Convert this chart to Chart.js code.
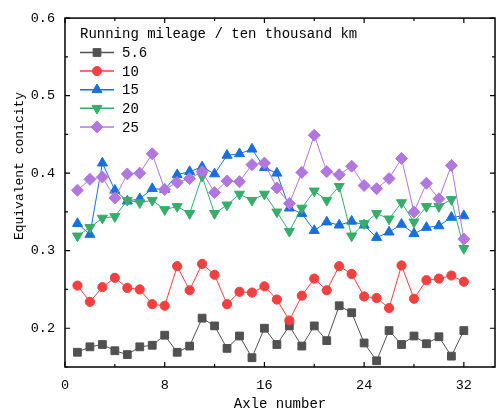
<!DOCTYPE html>
<html>
<head>
<meta charset="utf-8">
<script src="https://cdn.jsdelivr.net/npm/chart.js@4"></script>
<style>
html,body{margin:0;padding:0;background:#fff;}
canvas{display:block;}
</style>
</head>
<body>
<canvas id="myChart" width="502" height="416"></canvas>
<script>
// axle positions and conicity per running mileage (x10^4 km)
const axles = [1,2,3,4,5,6,7,8,9,10,11,12,13,14,15,16,17,18,19,20,21,22,23,24,25,26,27,28,29,30,31,32];
const mileages = ["5.6","10","15","20","25"];
const s56 = [0.169,0.176,0.179,0.171,0.166,0.176,0.178,0.191,0.169,0.177,0.213,0.203,0.174,0.190,0.162,0.200,0.179,0.203,0.177,0.203,0.184,0.229,0.220,0.181,0.158,0.197,0.179,0.190,0.180,0.189,0.164,0.197];
const s10 = [0.255,0.234,0.253,0.265,0.252,0.250,0.231,0.229,0.280,0.249,0.283,0.269,0.231,0.247,0.246,0.254,0.237,0.210,0.242,0.264,0.249,0.280,0.270,0.241,0.239,0.226,0.281,0.238,0.262,0.264,0.268,0.260];
const s15 = [0.335,0.321,0.413,0.378,0.364,0.367,0.380,0.379,0.398,0.402,0.408,0.399,0.423,0.425,0.431,0.407,0.400,0.355,0.348,0.326,0.337,0.333,0.338,0.333,0.317,0.324,0.334,0.322,0.330,0.332,0.343,0.345];
const s20 = [0.319,0.330,0.342,0.344,0.365,0.362,0.365,0.353,0.357,0.348,0.396,0.348,0.359,0.373,0.365,0.373,0.350,0.325,0.355,0.377,0.365,0.383,0.319,0.335,0.348,0.341,0.362,0.337,0.357,0.357,0.366,0.303];
const s25 = [0.378,0.392,0.395,0.368,0.399,0.400,0.425,0.379,0.388,0.393,0.402,0.375,0.390,0.389,0.411,0.413,0.381,0.361,0.401,0.449,0.402,0.398,0.409,0.384,0.380,0.393,0.419,0.350,0.387,0.367,0.410,0.315];
const xTicks = [0,8,16,24,32];
const yTicks = [0.2,0.3,0.4,0.5,0.6];

const colors = ["#515151","#F14040","#1A6FDF","#37AD6B","#B177DE"];
const styles = ["rect","circle","triangle","triangle","rectRot"];
const rotations = [0,0,0,180,0];
const radii = [5.5,4.6,5.8,5.8,6];
const allSeries = [s56,s10,s15,s20,s25];
const fontName = "'Liberation Mono', 'DejaVu Sans Mono', monospace";
const legendTitle = "Running mileage / ten thousand km";
const yTitle = "Equivalent conicity";

let datasets = [];
for (let i = 0; i < allSeries.length; i++){
    datasets.push({
        label: mileages[i],
        data: axles.map((a, k) => ({x: a, y: allSeries[i][k]})),
        borderColor: colors[i],
        backgroundColor: colors[i],
        borderWidth: 1,
        pointStyle: styles[i],
        pointRotation: rotations[i],
        pointRadius: radii[i],
        pointBorderWidth: 1,
        order: 4 - i
    });
}

// frame with inward ticks on all sides, y title, and the legend block
const framePlugin = {
    id: "frame",
    afterDraw(chart){
        const ctx = chart.ctx;
        const a = chart.chartArea;
        const xs = chart.scales.x, ys = chart.scales.y;
        ctx.save();
        ctx.strokeStyle = "#000";
        ctx.lineWidth = 1.5;
        ctx.strokeRect(a.left, a.top, a.right - a.left, a.bottom - a.top);
        ctx.lineWidth = 1.2;
        ctx.beginPath();
        for (let v = 0; v <= 34; v += 4){
            const x = xs.getPixelForValue(v);
            const len = v % 8 === 0 ? 5 : 3;
            ctx.moveTo(x, a.bottom); ctx.lineTo(x, a.bottom - len);
            ctx.moveTo(x, a.top); ctx.lineTo(x, a.top + len);
        }
        for (let k = 3; k <= 12; k++){
            const v = k * 0.05;
            const y = ys.getPixelForValue(v);
            const len = k % 2 === 0 ? 5 : 3;
            ctx.moveTo(a.left, y); ctx.lineTo(a.left + len, y);
            ctx.moveTo(a.right, y); ctx.lineTo(a.right - len, y);
        }
        ctx.stroke();

        // y axis title
        ctx.fillStyle = "#000";
        ctx.font = "13px " + fontName;
        ctx.textAlign = "center";
        ctx.textBaseline = "middle";
        ctx.save();
        ctx.translate(20, 166);
        ctx.rotate(-Math.PI / 2);
        ctx.fillText(yTitle, 0, 0);
        ctx.restore();

        // legend
        ctx.font = "14px " + fontName;
        ctx.textAlign = "left";
        ctx.fillText(legendTitle, 80, 34);
        for (let i = 0; i < mileages.length; i++){
            const y = 52.5 + i * 18.6;
            ctx.strokeStyle = colors[i];
            ctx.lineWidth = 1.5;
            ctx.beginPath();
            ctx.moveTo(80, y); ctx.lineTo(114, y);
            ctx.stroke();
            ctx.fillStyle = colors[i];
            ctx.lineWidth = 1;
            Chart.helpers.drawPoint(ctx, {pointStyle: styles[i], rotation: rotations[i], radius: radii[i], borderWidth: 1}, 97, y);
            ctx.fillStyle = "#000";
            ctx.font = "14px " + fontName;
            ctx.fillText(mileages[i], 122, y + 1);
        }
        ctx.restore();
    }
};

new Chart("myChart", {
    type: "line",
    data: { datasets: datasets },
    options: {
        responsive: false,
        animation: false,
        layout: { padding: { top: 10, right: 1, left: 0, bottom: 0 } },
        plugins: { legend: { display: false }, tooltip: { enabled: false } },
        scales: {
            x: {
                type: "linear",
                min: 0, max: 34.5,
                grid: { display: false, drawTicks: false },
                border: { display: false },
                afterBuildTicks: s => { s.ticks = xTicks.map(v => ({value: v})); },
                afterFit: s => { s.height = 49; },
                ticks: { padding: 10, color: "#000", maxRotation: 0, autoSkip: false, font: { family: fontName, size: 13.5 } },
                title: { display: true, text: "Axle number", color: "#000", font: { family: fontName, size: 14 }, padding: { top: 0, bottom: 3 } }
            },
            y: {
                min: 0.15, max: 0.6,
                grid: { display: false, drawTicks: false },
                border: { display: false },
                afterBuildTicks: s => { s.ticks = yTicks.map(v => ({value: v})); },
                afterFit: s => { s.width = 65; },
                ticks: { padding: 10, color: "#000", font: { family: fontName, size: 13.5 }, callback: v => v.toFixed(1) },
                title: { display: false }
            }
        }
    },
    plugins: [framePlugin]
});
</script>
</body>
</html>
